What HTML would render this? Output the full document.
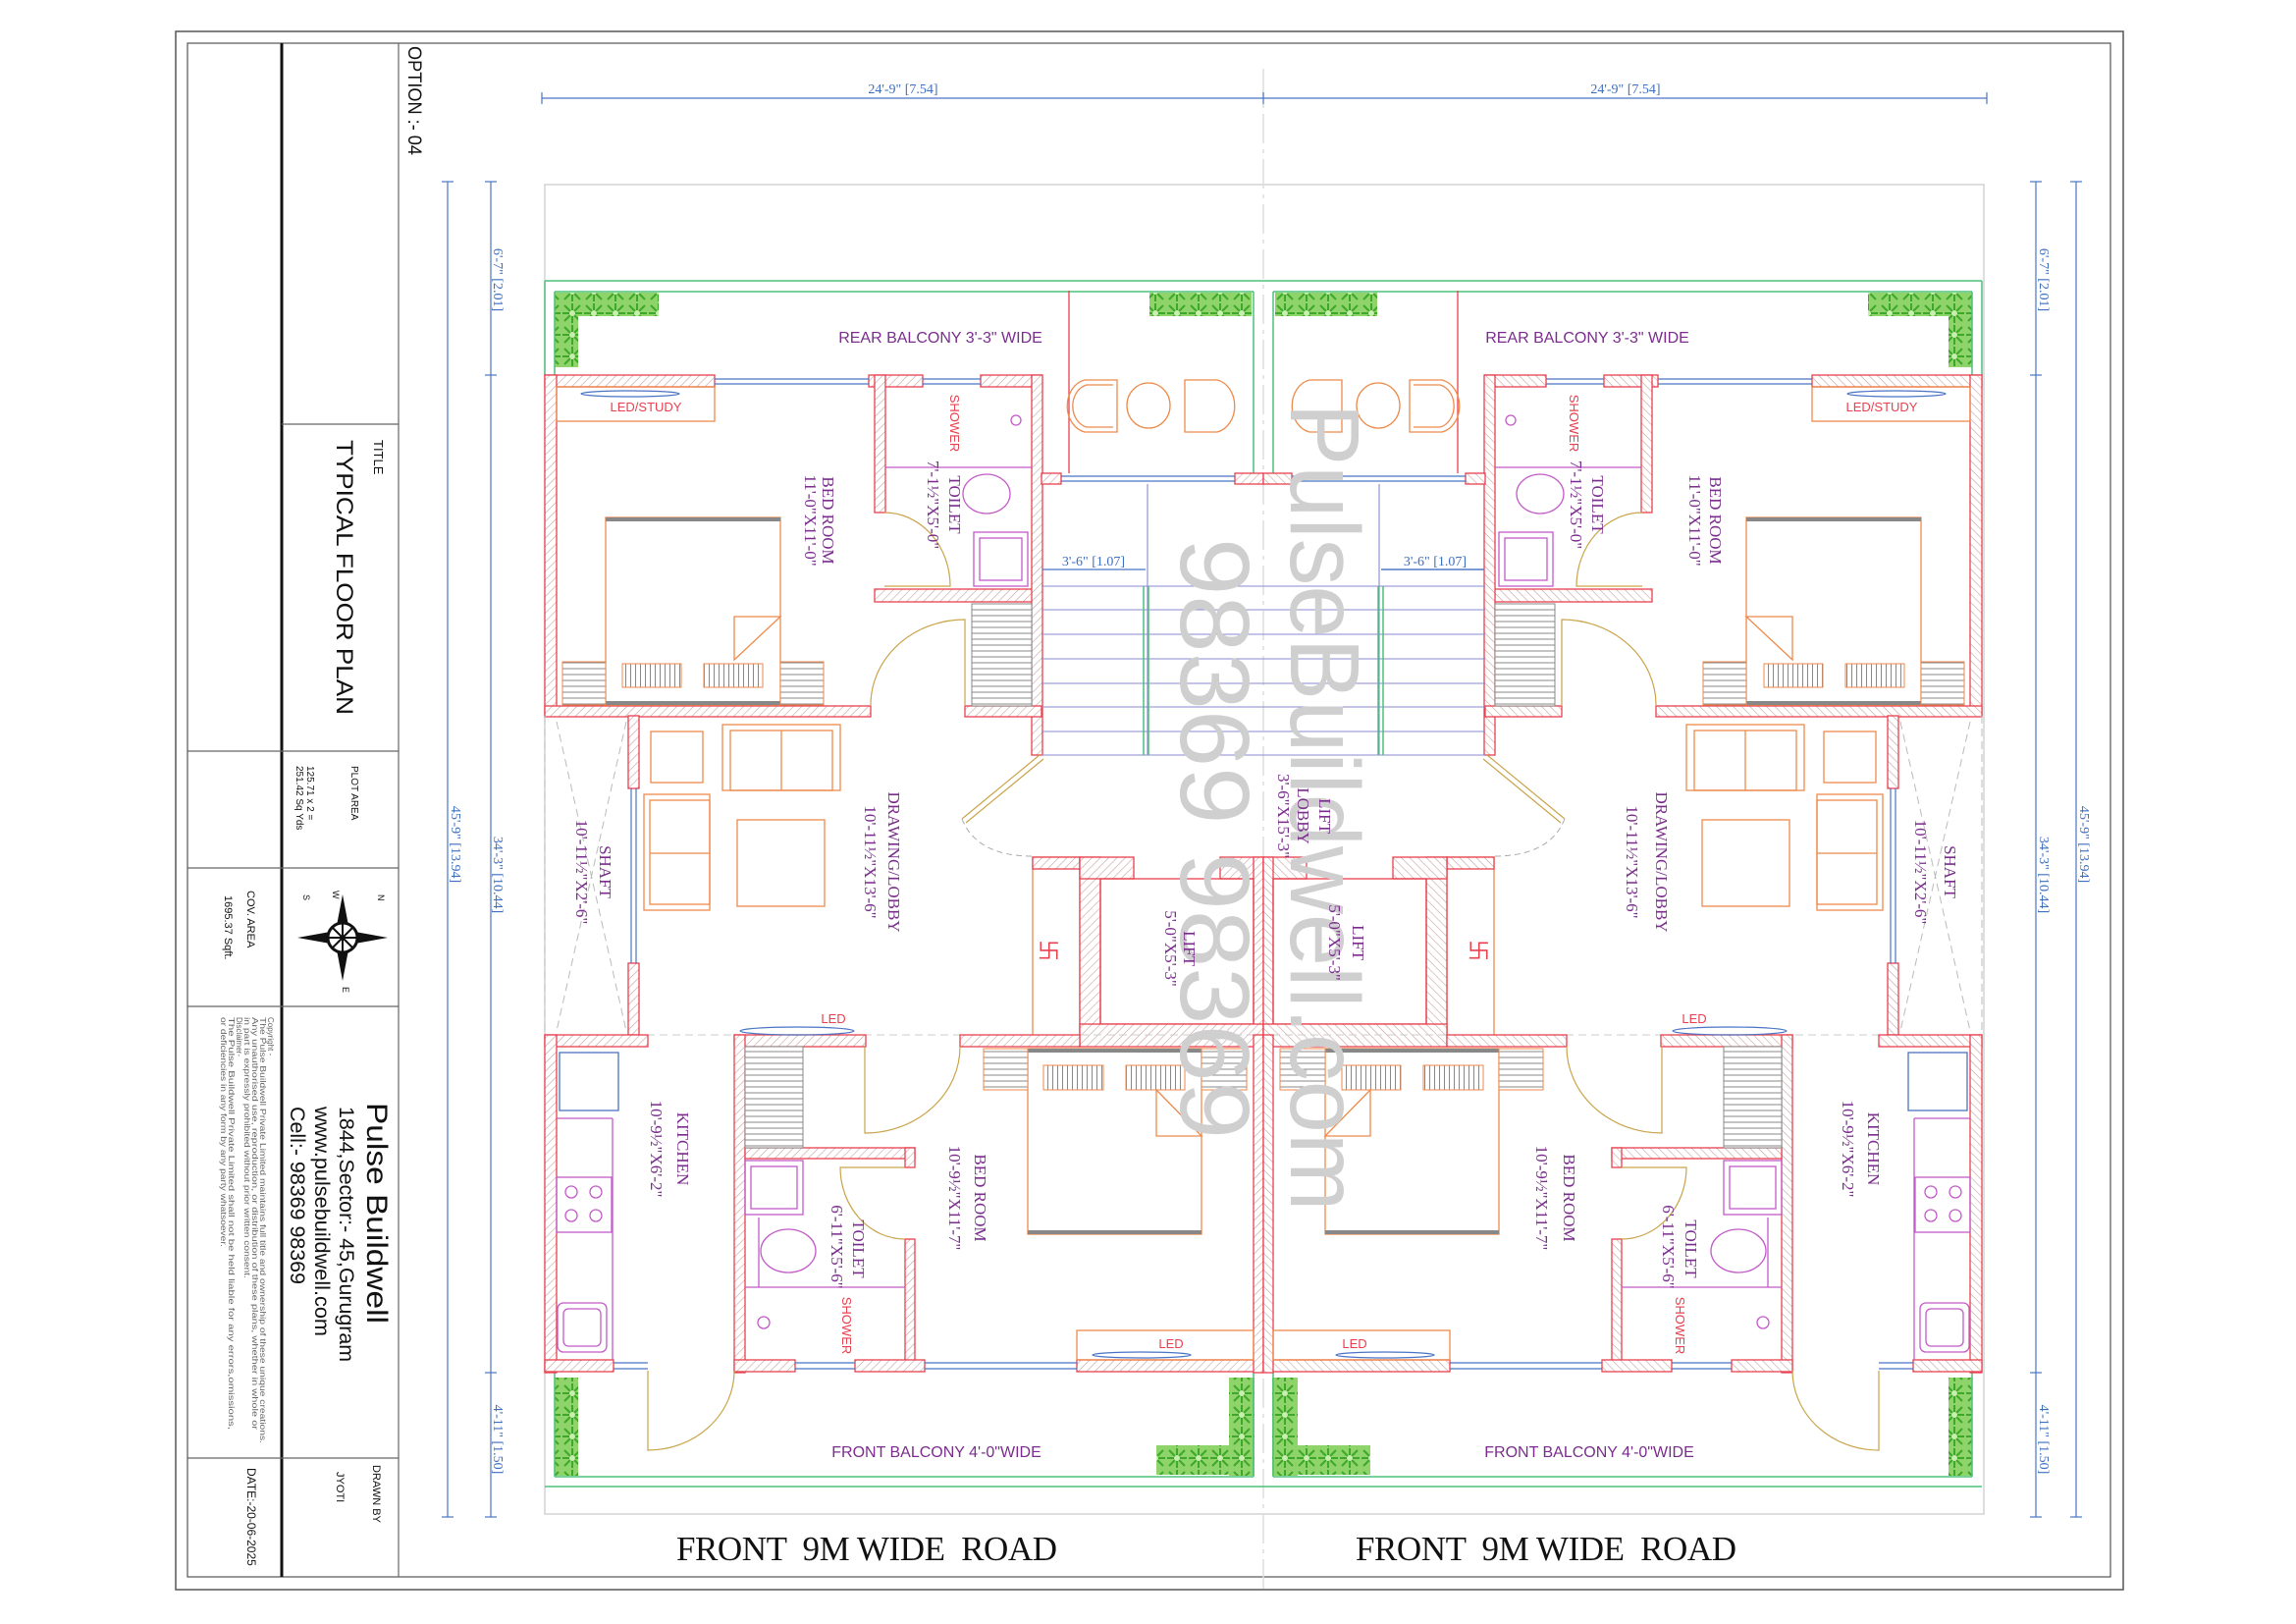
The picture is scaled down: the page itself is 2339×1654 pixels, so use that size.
<!DOCTYPE html>
<html><head><meta charset="utf-8"><style>
html,body{margin:0;padding:0;background:#fff;}
svg{display:block;}
.w{fill:url(#h);stroke:#e8404f;stroke-width:1.3;}
.or{fill:none;stroke:#ee8a4a;stroke-width:1.3;}
.mg{fill:none;stroke:#c25ac8;stroke-width:1.3;}
.bl{fill:none;stroke:#4a74c4;stroke-width:1.2;}
.gr{fill:none;stroke:#4cc07a;stroke-width:1.5;}
.dr{fill:none;stroke:#c9a44a;stroke-width:1.2;}
.lb{font-family:"Liberation Serif",serif;fill:#7a2d8c;font-size:17px;}
.ls{font-family:"Liberation Sans",sans-serif;fill:#7a2d8c;font-size:16px;}
.rd{font-family:"Liberation Sans",sans-serif;fill:#e8404f;font-size:13px;}
.dm{font-family:"Liberation Serif",serif;fill:#3f6fc0;font-size:14px;}
.tk{font-family:"Liberation Sans",sans-serif;fill:#111;}
</style></head><body>
<svg width="2339" height="1654" viewBox="0 0 2339 1654" xmlns="http://www.w3.org/2000/svg">
<defs>
<pattern id="h" width="6" height="6" patternUnits="userSpaceOnUse" patternTransform="rotate(45)">
<rect width="6" height="6" fill="#fff"/><line x1="0" y1="0" x2="0" y2="6" stroke="#c9a0a0" stroke-width="1.2"/></pattern>
<pattern id="pl" width="22" height="22" patternUnits="userSpaceOnUse">
<rect width="22" height="22" fill="#8fd46a"/>
<path d="M11 1 L11 21 M1 11 L21 11 M3 3 L19 19 M19 3 L3 19" stroke="#3ea82a" stroke-width="2"/>
<circle cx="11" cy="11" r="3" fill="#c8eeb0"/></pattern>
<pattern id="st" width="6" height="6" patternUnits="userSpaceOnUse"><rect width="6" height="6" fill="#fff"/><line x1="0" y1="3" x2="6" y2="3" stroke="#888" stroke-width="1"/></pattern>
<pattern id="sv" width="5" height="5" patternUnits="userSpaceOnUse"><rect width="5" height="5" fill="#fff"/><line x1="2.5" y1="0" x2="2.5" y2="5" stroke="#888" stroke-width="1"/></pattern>
<g id="unit">
<rect x="565" y="298" width="106" height="24" fill="url(#pl)"/>
<rect x="565" y="298" width="24" height="76" fill="url(#pl)"/>
<rect x="1171" y="298" width="104" height="24" fill="url(#pl)"/>
<rect x="565" y="1403" width="24" height="100" fill="url(#pl)"/>
<rect x="1178" y="1472" width="98" height="30" fill="url(#pl)"/>
<rect x="1252" y="1403" width="26" height="100" fill="url(#pl)"/>
<line class="gr" x1="555" y1="286" x2="1287" y2="286"/>
<line class="gr" x1="565" y1="297" x2="1277" y2="297"/>
<line class="gr" x1="555" y1="286" x2="555" y2="382"/>
<line class="gr" x1="565" y1="297" x2="565" y2="382"/>
<line class="gr" x1="1277" y1="297" x2="1277" y2="482"/>
<line class="gr" x1="555" y1="1514" x2="1287" y2="1514"/>
<line class="gr" x1="565" y1="1504" x2="1277" y2="1504"/>
<line class="gr" x1="565" y1="1398" x2="565" y2="1504"/>
<line class="gr" x1="1277" y1="1398" x2="1277" y2="1504"/>
<line x1="1089" y1="296" x2="1089" y2="482" stroke="#e8404f" stroke-width="1.3"/>
<path class="or" d="M1138 387 L1105 387 A22 27 0 0 0 1105 440 L1138 440 Z"/>
<path class="or" d="M1134 392 L1107 392 A18 22 0 0 0 1107 435 L1134 435"/>
<ellipse class="or" cx="1170" cy="413" rx="22" ry="23"/>
<path class="or" d="M1207 387 L1240 387 A22 27 0 0 1 1240 440 L1207 440 Z"/>
<rect class="w" x="555" y="382" width="173" height="12"/>
<rect class="w" x="885" y="382" width="55" height="12"/>
<rect class="w" x="999" y="382" width="62" height="12"/>
<line class="bl" x1="728" y1="386" x2="885" y2="386"/><line class="bl" x1="728" y1="391" x2="885" y2="391"/>
<line class="bl" x1="940" y1="386" x2="999" y2="386"/><line class="bl" x1="940" y1="391" x2="999" y2="391"/>
<rect class="w" x="555" y="382" width="12" height="347"/>
<rect class="w" x="891" y="382" width="11" height="140"/>
<rect class="w" x="891" y="600" width="170" height="13"/>
<rect class="w" x="1051" y="382" width="11" height="387"/>
<rect class="w" x="555" y="719" width="332" height="11"/>
<rect class="w" x="983" y="719" width="78" height="11"/>
<rect class="w" x="1061" y="482" width="20" height="11"/>
<rect class="w" x="1258" y="482" width="29" height="11"/>
<line class="bl" x1="1081" y1="485" x2="1258" y2="485"/><line class="bl" x1="1081" y1="490" x2="1258" y2="490"/>
<rect class="or" x="567" y="394" width="161" height="35"/>
<ellipse class="bl" cx="642" cy="401" rx="50" ry="3"/>
<line class="mg" x1="902" y1="476" x2="1051" y2="476"/>
<ellipse class="mg" cx="1005" cy="503" rx="24" ry="20"/>
<rect class="mg" x="992" y="542" width="55" height="55"/><rect class="mg" x="998" y="548" width="43" height="43"/>
<circle class="mg" cx="1035" cy="428" r="5"/>
<path class="dr" d="M901 597 L968 597 A67 75 0 0 0 901 522"/>
<rect class="or" x="617" y="527" width="178" height="191"/>
<rect x="617" y="527" width="178" height="4" fill="#888"/>
<rect x="617" y="714" width="178" height="4" fill="#888"/>
<rect x="573" y="674" width="44" height="44" fill="url(#st)" stroke="#ee8a4a"/>
<rect x="795" y="674" width="44" height="44" fill="url(#st)" stroke="#ee8a4a"/>
<rect x="634" y="676" width="60" height="24" fill="url(#sv)" stroke="#ee8a4a"/>
<rect x="717" y="676" width="60" height="24" fill="url(#sv)" stroke="#ee8a4a"/>
<path class="or" d="M748 628 L795 628 L748 672 Z"/>
<path class="dr" d="M983 718 L983 631 A96 87 0 0 0 887 718"/>
<rect x="990" y="615" width="61" height="104" fill="url(#st)" stroke="#888"/>
<g stroke="#8a8ad0" stroke-width="1.1">
<line x1="1061" y1="597" x2="1287" y2="597"/><line x1="1061" y1="621" x2="1287" y2="621"/>
<line x1="1061" y1="646" x2="1287" y2="646"/><line x1="1061" y1="671" x2="1287" y2="671"/>
<line x1="1061" y1="696" x2="1287" y2="696"/><line x1="1061" y1="720" x2="1287" y2="720"/>
<line x1="1061" y1="745" x2="1287" y2="745"/><line x1="1061" y1="769" x2="1287" y2="769"/>
<line x1="1169" y1="493" x2="1169" y2="769"/>
</g>
<line class="gr" x1="1165" y1="597" x2="1165" y2="769"/><line class="gr" x1="1170" y1="597" x2="1170" y2="769"/>
<line class="bl" x1="1062" y1="580" x2="1167" y2="580"/>
<line class="dr" x1="1059" y1="769" x2="980" y2="834"/><line class="dr" x1="1063" y1="773" x2="984" y2="838"/>
<path d="M980 834 Q995 872 1052 872" fill="none" stroke="#aaa" stroke-dasharray="6 4"/>
<rect class="w" x="640" y="729" width="11" height="74"/>
<rect class="w" x="640" y="981" width="11" height="73"/>
<line class="bl" x1="643" y1="803" x2="643" y2="981"/><line class="bl" x1="648" y1="803" x2="648" y2="981"/>
<g stroke="#bbb" stroke-dasharray="8 5" fill="none"><line x1="567" y1="735" x2="638" y2="1050"/><line x1="638" y1="735" x2="567" y2="1050"/><line x1="555" y1="729" x2="555" y2="1054"/></g>
<rect class="or" x="663" y="745" width="53" height="52"/>
<rect class="or" x="736" y="738" width="120" height="67"/><rect class="or" x="744" y="744" width="104" height="61"/><line class="or" x1="796" y1="744" x2="796" y2="805"/>
<rect class="or" x="656" y="809" width="67" height="118"/><rect class="or" x="662" y="815" width="61" height="106"/><line class="or" x1="662" y1="869" x2="723" y2="869"/>
<rect class="or" x="751" y="835" width="89" height="88"/>
<!-- lift block -->
<rect class="or" x="1052" y="873" width="48" height="182"/>
<rect class="w" x="1052" y="873" width="48" height="12"/>
<rect class="w" x="1100" y="873" width="21" height="182"/>
<rect class="w" x="1100" y="873" width="55" height="22"/>
<rect class="w" x="1243" y="873" width="44" height="22"/>
<line x1="1155" y1="895" x2="1243" y2="895" stroke="#bbb" stroke-dasharray="6 4"/>
<rect class="w" x="1277" y="873" width="10" height="182"/>
<rect class="or" x="1121" y="895" width="156" height="148" style="stroke:#e8404f"/>
<rect class="w" x="1100" y="1043" width="187" height="23"/>
<line x1="555" y1="1054" x2="1287" y2="1054" stroke="#ccc" stroke-dasharray="8 5"/>
<rect class="w" x="555" y="1054" width="105" height="12"/>
<rect class="w" x="748" y="1054" width="134" height="12"/>
<rect class="w" x="978" y="1054" width="122" height="12"/>
<rect class="w" x="555" y="1054" width="12" height="344"/>
<rect class="w" x="748" y="1054" width="11" height="344"/>
<rect class="w" x="759" y="1169" width="173" height="11"/>
<rect class="w" x="922" y="1169" width="10" height="20"/>
<rect class="w" x="922" y="1262" width="10" height="134"/>
<rect class="w" x="555" y="1385" width="70" height="12"/>
<rect class="w" x="748" y="1385" width="62" height="12"/>
<rect class="w" x="871" y="1385" width="71" height="12"/>
<rect class="w" x="1097" y="1385" width="190" height="12"/>
<rect class="w" x="1277" y="1054" width="10" height="344"/>
<g class="bl"><line x1="625" y1="1388" x2="660" y2="1388"/><line x1="625" y1="1394" x2="660" y2="1394"/>
<line x1="810" y1="1388" x2="871" y2="1388"/><line x1="810" y1="1394" x2="871" y2="1394"/>
<line x1="942" y1="1388" x2="1097" y2="1388"/><line x1="942" y1="1394" x2="1097" y2="1394"/></g>
<ellipse class="bl" cx="812" cy="1050" rx="58" ry="4"/>
<rect x="570" y="1072" width="60" height="59" fill="none" stroke="#4a74c4" stroke-width="1.3"/>
<line class="mg" x1="624" y1="1139" x2="624" y2="1385"/><line class="mg" x1="567" y1="1139" x2="624" y2="1139"/>
<rect class="mg" x="567" y="1199" width="56" height="56"/>
<circle class="mg" cx="582" cy="1214" r="6"/><circle class="mg" cx="607" cy="1214" r="6"/><circle class="mg" cx="582" cy="1238" r="6"/><circle class="mg" cx="607" cy="1238" r="6"/>
<rect class="mg" x="568" y="1327" width="50" height="50" rx="6"/><rect class="mg" x="574" y="1333" width="38" height="38" rx="5"/>
<rect x="759" y="1066" width="59" height="103" fill="url(#st)" stroke="#888"/>
<path class="dr" d="M660 1396 L660 1477 A88 81 0 0 0 748 1396"/>
<rect class="mg" x="759" y="1182" width="59" height="55"/><rect class="mg" x="765" y="1188" width="47" height="43"/>
<ellipse class="mg" cx="803" cy="1274" rx="28" ry="22"/>
<line class="mg" x1="759" y1="1311" x2="922" y2="1311"/>
<line class="mg" x1="773" y1="1240" x2="773" y2="1311"/>
<circle class="mg" cx="778" cy="1347" r="6"/>
<path class="dr" d="M922 1189 L856 1189 A66 73 0 0 0 922 1262"/>
<path class="dr" d="M881 1066 L881 1154 A97 88 0 0 0 978 1066"/>
<rect class="or" x="1047" y="1068" width="177" height="189"/>
<rect x="1047" y="1068" width="177" height="4" fill="#888"/>
<rect x="1047" y="1253" width="177" height="4" fill="#888"/>
<rect x="1002" y="1068" width="45" height="42" fill="url(#st)" stroke="#ee8a4a"/>
<rect x="1224" y="1068" width="46" height="42" fill="url(#st)" stroke="#ee8a4a"/>
<rect x="1063" y="1085" width="61" height="25" fill="url(#sv)" stroke="#ee8a4a"/>
<rect x="1147" y="1085" width="60" height="25" fill="url(#sv)" stroke="#ee8a4a"/>
<path class="or" d="M1178 1110 L1224 1157 L1178 1157 Z"/>
<rect class="or" x="1097" y="1355" width="180" height="30"/>
<ellipse class="bl" cx="1163" cy="1380" rx="50" ry="3"/>
</g>
</defs>

<rect x="179" y="32" width="1984" height="1587" fill="none" stroke="#555" stroke-width="1.5"/>
<rect x="191" y="44" width="1959" height="1562" fill="none" stroke="#555" stroke-width="1.2"/>
<line x1="287" y1="44" x2="287" y2="1606" stroke="#111" stroke-width="3"/>
<line x1="406" y1="44" x2="406" y2="1606" stroke="#666" stroke-width="1.2"/>
<g stroke="#666" stroke-width="1.2">
<line x1="287" y1="432" x2="406" y2="432"/>
<line x1="191" y1="765" x2="406" y2="765"/>
<line x1="191" y1="884" x2="406" y2="884"/>
<line x1="191" y1="1025" x2="406" y2="1025"/>
<line x1="191" y1="1485" x2="406" y2="1485"/>
</g>

<rect x="555" y="188" width="1466" height="1354" fill="none" stroke="#ccc" stroke-width="1.3"/>
<line x1="1287" y1="70" x2="1287" y2="1619" stroke="#ddd" stroke-width="1.5" stroke-dasharray="30 6 4 6"/>

<use href="#unit"/>
<use href="#unit" transform="matrix(-1,0,0,1,2574,0)"/>

<g class="bl">
<line x1="552" y1="100" x2="2024" y2="100"/>
<line x1="552" y1="94" x2="552" y2="106"/><line x1="1287" y1="94" x2="1287" y2="106"/><line x1="2024" y1="94" x2="2024" y2="106"/>
<line x1="456" y1="185" x2="456" y2="1545"/><line x1="500" y1="185" x2="500" y2="1545"/>
<line x1="2074" y1="185" x2="2074" y2="1545"/><line x1="2115" y1="185" x2="2115" y2="1545"/>
<line x1="450" y1="185" x2="462" y2="185"/><line x1="450" y1="1545" x2="462" y2="1545"/>
<line x1="494" y1="185" x2="506" y2="185"/><line x1="494" y1="382" x2="506" y2="382"/><line x1="494" y1="1398" x2="506" y2="1398"/><line x1="494" y1="1545" x2="506" y2="1545"/>
<line x1="2068" y1="185" x2="2080" y2="185"/><line x1="2068" y1="382" x2="2080" y2="382"/><line x1="2068" y1="1398" x2="2080" y2="1398"/><line x1="2068" y1="1545" x2="2080" y2="1545"/>
<line x1="2109" y1="185" x2="2121" y2="185"/><line x1="2109" y1="1545" x2="2121" y2="1545"/>
<line x1="1407" y1="580" x2="1512" y2="580"/>
</g>
<text class="dm" x="920" y="95" text-anchor="middle">24'-9" [7.54]</text>
<text class="dm" x="1656" y="95" text-anchor="middle">24'-9" [7.54]</text>
<text class="dm" x="1114" y="576" text-anchor="middle">3'-6" [1.07]</text>
<text class="dm" x="1462" y="576" text-anchor="middle">3'-6" [1.07]</text>
<g class="dm" text-anchor="middle">
<text transform="translate(503,285) rotate(90)">6'-7" [2.01]</text>
<text transform="translate(503,891) rotate(90)">34'-3" [10.44]</text>
<text transform="translate(460,860) rotate(90)">45'-9" [13.94]</text>
<text transform="translate(503,1466) rotate(90)">4'-11" [1.50]</text>
<text transform="translate(2078,285) rotate(90)">6'-7" [2.01]</text>
<text transform="translate(2078,891) rotate(90)">34'-3" [10.44]</text>
<text transform="translate(2119,860) rotate(90)">45'-9" [13.94]</text>
<text transform="translate(2078,1466) rotate(90)">4'-11" [1.50]</text>
</g>

<g fill="#cfcfcf" font-family="Liberation Sans, sans-serif" text-anchor="middle">
<text transform="translate(1315,822) rotate(90)" font-size="100" textLength="823" lengthAdjust="spacingAndGlyphs">PulseBuildwell.com</text>
<text transform="translate(1203,854) rotate(90)" font-size="100" textLength="612" lengthAdjust="spacingAndGlyphs">98369 98369</text>
</g>

<text class="ls" x="958" y="349" text-anchor="middle">REAR  BALCONY 3'-3" WIDE</text>
<text class="ls" x="1617" y="349" text-anchor="middle">REAR  BALCONY 3'-3" WIDE</text>
<text class="ls" x="954" y="1484" text-anchor="middle">FRONT  BALCONY 4'-0"WIDE</text>
<text class="ls" x="1619" y="1484" text-anchor="middle">FRONT  BALCONY 4'-0"WIDE</text>
<text class="rd" x="658" y="419" text-anchor="middle">LED/STUDY</text>
<text class="rd" x="1917" y="419" text-anchor="middle">LED/STUDY</text>
<text class="rd" x="849" y="1042" text-anchor="middle">LED</text>
<text class="rd" x="1726" y="1042" text-anchor="middle">LED</text>
<text class="rd" x="1193" y="1373" text-anchor="middle">LED</text>
<text class="rd" x="1380" y="1373" text-anchor="middle">LED</text>
<text x="1068" y="976" fill="#e8404f" font-family="Noto Sans CJK SC, sans-serif" font-size="22" text-anchor="middle" transform="rotate(90 1068 968)">卐</text>
<text x="1506" y="976" fill="#e8404f" font-family="Noto Sans CJK SC, sans-serif" font-size="22" text-anchor="middle" transform="rotate(90 1506 968)">卐</text>

<g class="lb" text-anchor="middle">
<text transform="translate(838,530) rotate(90)">BED ROOM</text>
<text transform="translate(820,530) rotate(90)">11'-0"X11'-0"</text>
<text transform="translate(1742,530) rotate(90)">BED ROOM</text>
<text transform="translate(1721,530) rotate(90)">11'-0"X11'-0"</text>
<text transform="translate(967,514) rotate(90)">TOILET</text>
<text transform="translate(945,514) rotate(90)">7'-1½"X5'-0"</text>
<text transform="translate(1622,514) rotate(90)">TOILET</text>
<text transform="translate(1600,514) rotate(90)">7'-1½"X5'-0"</text>
<text transform="translate(905,878) rotate(90)">DRAWING/LOBBY</text>
<text transform="translate(881,878) rotate(90)">10'-11½"X13'-6"</text>
<text transform="translate(1687,878) rotate(90)">DRAWING/LOBBY</text>
<text transform="translate(1657,878) rotate(90)">10'-11½"X13'-6"</text>
<text transform="translate(611,888) rotate(90)">SHAFT</text>
<text transform="translate(587,888) rotate(90)">10'-11½"X2'-6"</text>
<text transform="translate(1981,888) rotate(90)">SHAFT</text>
<text transform="translate(1951,888) rotate(90)">10'-11½"X2'-6"</text>
<text transform="translate(1206,966) rotate(90)">LIFT</text>
<text transform="translate(1187,966) rotate(90)">5'-0"X5'-3"</text>
<text transform="translate(1378,960) rotate(90)">LIFT</text>
<text transform="translate(1354,960) rotate(90)">5'-0"X5'-3"</text>
<text transform="translate(1344,831) rotate(90)">LIFT</text>
<text transform="translate(1322,831) rotate(90)">LOBBY</text>
<text transform="translate(1302,831) rotate(90)">3'-6"X15'-3"</text>
<text transform="translate(690,1170) rotate(90)">KITCHEN</text>
<text transform="translate(663,1170) rotate(90)">10'-9½"X6'-2"</text>
<text transform="translate(1903,1170) rotate(90)">KITCHEN</text>
<text transform="translate(1877,1170) rotate(90)">10'-9½"X6'-2"</text>
<text transform="translate(993,1220) rotate(90)">BED ROOM</text>
<text transform="translate(967,1220) rotate(90)">10'-9½"X11'-7"</text>
<text transform="translate(1593,1220) rotate(90)">BED ROOM</text>
<text transform="translate(1565,1220) rotate(90)">10'-9½"X11'-7"</text>
<text transform="translate(869,1272) rotate(90)">TOILET</text>
<text transform="translate(847,1270) rotate(90)">6'-11"X5'-6"</text>
<text transform="translate(1717,1272) rotate(90)">TOILET</text>
<text transform="translate(1694,1270) rotate(90)">6'-11"X5'-6"</text>
</g>
<g class="rd" text-anchor="middle">
<text transform="translate(968,431) rotate(90)">SHOWER</text>
<text transform="translate(1599,431) rotate(90)">SHOWER</text>
<text transform="translate(858,1350) rotate(90)">SHOWER</text>
<text transform="translate(1707,1350) rotate(90)">SHOWER</text>
</g>

<text x="883" y="1589" font-family="Liberation Serif, serif" font-size="35" text-anchor="middle" fill="#111" textLength="388" lengthAdjust="spacing" xml:space="preserve">FRONT  9M WIDE  ROAD</text>
<text x="1575" y="1589" font-family="Liberation Serif, serif" font-size="35" text-anchor="middle" fill="#111" textLength="388" lengthAdjust="spacing" xml:space="preserve">FRONT  9M WIDE  ROAD</text>

<g class="tk">
<text transform="translate(416,47) rotate(90)" font-size="19" textLength="111" lengthAdjust="spacingAndGlyphs">OPTION :- 04</text>
<text transform="translate(381,448) rotate(90)" font-size="13">TITLE</text>
<text transform="translate(343,448) rotate(90)" font-size="24" textLength="280" lengthAdjust="spacingAndGlyphs">TYPICAL  FLOOR  PLAN</text>
<text transform="translate(358,780) rotate(90)" font-size="10">PLOT AREA</text>
<text transform="translate(313,780) rotate(90)" font-size="10">125.71 x 2 =</text>
<text transform="translate(302,780) rotate(90)" font-size="10">251.42 Sq Yds</text>
<text transform="translate(252,907) rotate(90)" font-size="11">COV. AREA</text>
<text transform="translate(229,912) rotate(90)" font-size="11">1695.37 Sqft.</text>
<text transform="translate(374,1123) rotate(90)" font-size="30" textLength="225" lengthAdjust="spacingAndGlyphs">Pulse Buildwell</text>
<text transform="translate(346,1127) rotate(90)" font-size="21" textLength="260" lengthAdjust="spacingAndGlyphs">1844,Sector:- 45,Gurugram</text>
<text transform="translate(321,1127) rotate(90)" font-size="21" textLength="234" lengthAdjust="spacingAndGlyphs">www.pulsebuildwell.com</text>
<text transform="translate(296,1127) rotate(90)" font-size="21" textLength="181" lengthAdjust="spacingAndGlyphs">Cell:- 98369 98369</text>
<g font-size="8" fill="#666">
<text transform="translate(273,1036) rotate(90)">Copyright -</text>
<text transform="translate(265,1036) rotate(90)" textLength="434" lengthAdjust="spacingAndGlyphs">The Pulse Buildwell Private Limited maintains full title and ownership of these unique creations.</text>
<text transform="translate(257,1036) rotate(90)" textLength="420" lengthAdjust="spacingAndGlyphs">Any unauthorised use, reproduction, or distribution of these plans, whether in whole or</text>
<text transform="translate(249,1036) rotate(90)" textLength="266" lengthAdjust="spacingAndGlyphs">in part is expressly prohibited without prior written consent.</text>
<text transform="translate(241,1036) rotate(90)">Disclaimer-</text>
<text transform="translate(233,1036) rotate(90)" textLength="420" lengthAdjust="spacingAndGlyphs">The Pulse Buildwell Private Limited shall not be held liable for any errors,omissions,</text>
<text transform="translate(225,1036) rotate(90)" textLength="234" lengthAdjust="spacingAndGlyphs">or deficiencies in any form by any party whatsoever.</text>
</g>
<text transform="translate(380,1492) rotate(90)" font-size="11">DRAWN BY</text>
<text transform="translate(343,1499) rotate(90)" font-size="11">JYOTI</text>
<text transform="translate(252,1495) rotate(90)" font-size="12">DATE:-20-06-2025</text>
</g>
<g transform="translate(349,955)">
<polygon points="0,-44 7,-7 46,0 7,7 0,44 -7,7 -46,0 -7,-7" fill="#111"/>
<circle r="15" fill="#fff" stroke="#111" stroke-width="3"/>
<line x1="-15" y1="0" x2="15" y2="0" stroke="#111" stroke-width="2"/><line x1="0" y1="-15" x2="0" y2="15" stroke="#111" stroke-width="2"/>
<line x1="-11" y1="-11" x2="11" y2="11" stroke="#111" stroke-width="2"/><line x1="11" y1="-11" x2="-11" y2="11" stroke="#111" stroke-width="2"/>
<text x="36" y="-44" font-size="9" class="tk" transform="rotate(90 36 -44)">N</text>
<text x="-40" y="-44" font-size="9" class="tk" transform="rotate(90 -40 -44)">S</text>
<text x="0" y="50" font-size="9" class="tk" transform="rotate(90 0 50)">E</text>
<text x="-10" y="-48" font-size="9" class="tk" transform="rotate(90 -10 -48)">W</text>
</g>
</svg>
</body></html>
